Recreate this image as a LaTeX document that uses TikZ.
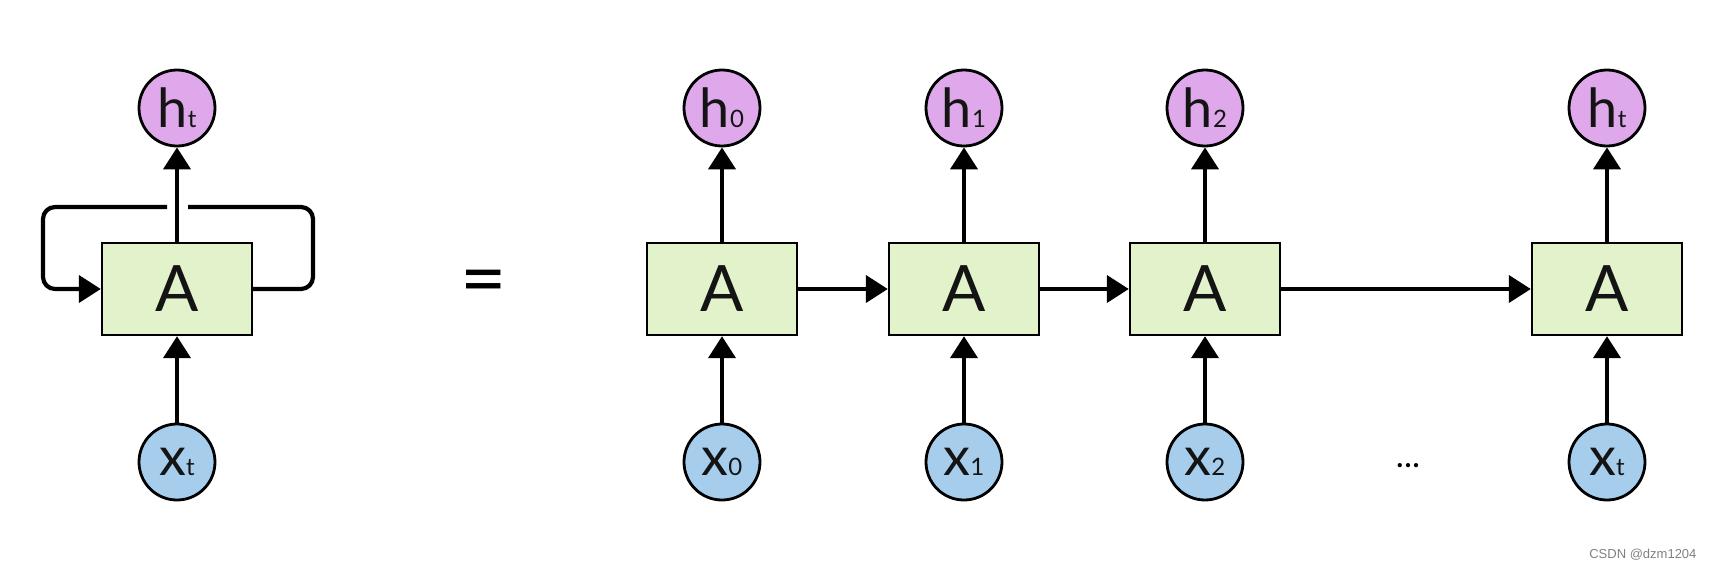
\documentclass[tikz,border=0pt]{standalone}
\usepackage{fontspec}
\setmainfont{Lato}
\usetikzlibrary{arrows.meta}
\definecolor{hpurple}{RGB}{222,168,234}
\definecolor{xblue}{RGB}{166,206,236}
\definecolor{cellgreen}{RGB}{226,243,204}
\definecolor{ink}{RGB}{20,20,20}
\newcommand{\hvar}[2]{{\fontsize{54}{54}\selectfont #1}{\fontsize{24}{24}\selectfont #2}}
\tikzset{
  cell/.style={draw, line width=2.4pt, fill=cellgreen, minimum width=150pt, minimum height=92pt, inner sep=0pt, text=ink, font=\fontsize{64}{64}\selectfont},
  hid/.style={draw, circle, line width=2.8pt, fill=hpurple, minimum size=76pt, inner sep=0pt, text=ink},
  inp/.style={draw, circle, line width=2.8pt, fill=xblue, minimum size=76pt, inner sep=0pt, text=ink},
  flow/.style={line width=4.2pt, -{Triangle[length=22pt,width=27pt]}}
}
\begin{document}
\begin{tikzpicture}[x=1pt,y=-1pt]
            \useasboundingbox (0,0) rectangle (1714,571);
            % folded network
            \node [cell] (Aloop) at (177,289) {A};
            \node [hid] (hloop) at (177,108) {\hvar{h}{t}};
            \node [inp] (xloop) at (177,462) {\hvar{x}{t}};
            \coordinate (gapR) at (188,207);
            \coordinate (gapL) at (167,207);
            \draw [line width=4.2pt, rounded corners=12pt] (Aloop.east) -- (313,289) -- (313,207) -- (gapR);
            \draw [flow, rounded corners=12pt] (gapL) -- (43,207) -- (43,289) -- (Aloop.west);
            \path[flow] (xloop) edge (Aloop);
            \path[flow] (Aloop) edge (hloop);
            \node (eq) at (484,288) {\fontsize{80}{80}\selectfont =};
            % unrolled network
            \node [cell] (A0) at (722,289) {A};
            \node [cell] (A1) at (964,289) {A};
            \node [cell] (A2) at (1205,289) {A};
            \node [cell] (At) at (1607,289) {A};
            \node [hid] (h0) at (722,108) {\hvar{h}{0}};
            \node [hid] (h1) at (964,108) {\hvar{h}{1}};
            \node [hid] (h2) at (1205,108) {\hvar{h}{2}};
            \node [hid] (ht) at (1607,108) {\hvar{h}{t}};
            \node [inp] (x0) at (722,462) {\hvar{x}{0}};
            \node [inp] (x1) at (964,462) {\hvar{x}{1}};
            \node [inp] (x2) at (1205,462) {\hvar{x}{2}};
            \node [inp] (xt) at (1607,462) {\hvar{x}{t}};
            \node (dots) at (1408,466) {\fontsize{34}{34}\selectfont ...};
            \path[flow] (x0) edge (A0);
            \path[flow] (x1) edge (A1);
            \path[flow] (x2) edge (A2);
            \path[flow] (xt) edge (At);
            \path[flow] (A0) edge (h0);
            \path[flow] (A1) edge (h1);
            \path[flow] (A2) edge (h2);
            \path[flow] (At) edge (ht);
            \path[flow] (A0) edge (A1);
            \path[flow] (A1) edge (A2);
            \path[flow] (A2) edge (At);
            \node [gray, anchor=east, font=\fontsize{13}{13}\selectfont\fontspec{Liberation Sans}] (mark) at (1700,555) {CSDN @dzm1204};
\end{tikzpicture}
\end{document}
